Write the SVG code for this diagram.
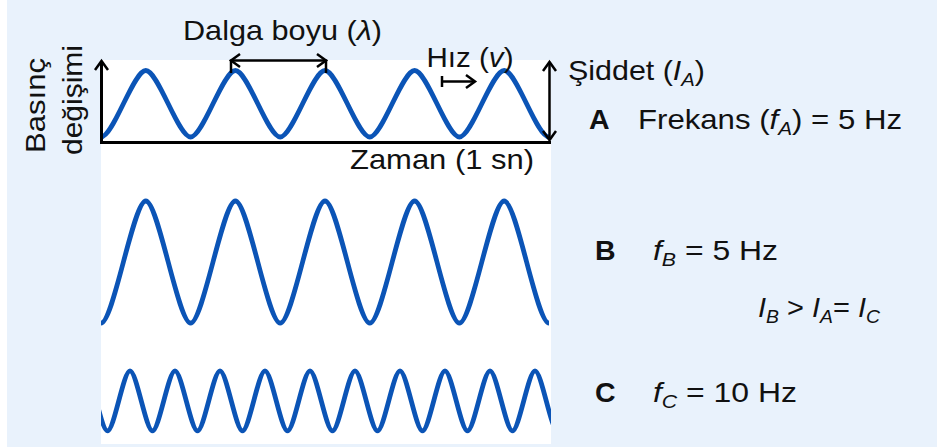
<svg xmlns="http://www.w3.org/2000/svg" width="937" height="447" viewBox="0 0 937 447">
  <style>
    .t { font-family: "Liberation Sans", Arial, sans-serif; font-size: 28.5px; fill: #111; }
    .b { font-weight: bold; }
    .i { font-style: italic; }
    .sub { font-size: 19px; font-style: italic; }
    .rot { font-size: 28px; }
    .wave { fill: none; stroke: #0b54b6; stroke-width: 4.8; }
    .ax { fill: none; stroke: #000; stroke-width: 3; }
    .ar { fill: none; stroke: #000; stroke-width: 2.5; }
  </style>
  <defs>
    <marker id="chev" markerUnits="userSpaceOnUse" markerWidth="24" markerHeight="24" refX="0" refY="0" viewBox="-12 -12 24 24" orient="auto-start-reverse" overflow="visible">
      <path d="M-9,-6.5 L0,0 L-9,6.5" fill="none" stroke="#000" stroke-width="2.5" stroke-linejoin="miter"/>
    </marker>
    <clipPath id="plot">
      <rect x="101" y="60" width="450" height="384"/>
    </clipPath>
  </defs>

  <g id="background">
    <rect x="0" y="0" width="937" height="447" fill="#e9f2fc"/>
    <rect x="0" y="0" width="7" height="447" fill="#ffffff"/>
    <rect x="101" y="60" width="450" height="384" fill="#ffffff"/>
  </g>

  <g id="wave-A" clip-path="url(#plot)">
    <path class="wave" d="M101,137 C113.5,137 133.3,70.5 145.8,70.5 S178.1,137 190.6,137 S222.9,70.5 235.4,70.5 S267.7,137 280.2,137 S312.5,70.5 325,70.5 S357.3,137 369.8,137 S402.1,70.5 414.6,70.5 S446.9,137 459.4,137 S491.7,70.5 504.2,70.5 S536.5,137 549,137"/>
  </g>

  <g id="wave-B" clip-path="url(#plot)">
    <path class="wave" d="M101,323 C113.5,323 133.3,201 145.8,201 S178.1,323 190.6,323 S222.9,201 235.4,201 S267.7,323 280.2,323 S312.5,201 325,201 S357.3,323 369.8,323 S402.1,201 414.6,201 S446.9,323 459.4,323 S491.7,201 504.2,201 S536.5,323 549,323"/>
  </g>

  <g id="wave-C" clip-path="url(#plot)">
    <path class="wave" d="M62.5,430.8 C69,430.8 78.5,370.8 85,370.8 S101,430.8 107.5,430.8 S123.5,370.8 130,370.8 S146,430.8 152.5,430.8 S168.5,370.8 175,370.8 S191,430.8 197.5,430.8 S213.5,370.8 220,370.8 S236,430.8 242.5,430.8 S258.5,370.8 265,370.8 S281,430.8 287.5,430.8 S303.5,370.8 310,370.8 S326,430.8 332.5,430.8 S348.5,370.8 355,370.8 S371,430.8 377.5,430.8 S393.5,370.8 400,370.8 S416,430.8 422.5,430.8 S438.5,370.8 445,370.8 S461,430.8 467.5,430.8 S483.5,370.8 490,370.8 S506,430.8 512.5,430.8 S528.5,370.8 535,370.8 S551,430.8 557.5,430.8"/>
  </g>

  <g id="connectors">
    <line id="x-axis" class="ax" x1="101" y1="142.5" x2="551" y2="142.5"/>
    <line id="y-axis" class="ax" x1="101.5" y1="144" x2="101.5" y2="61" marker-end="url(#chev)"/>
    <line id="intensity-arrow" class="ar" x1="549.5" y1="62" x2="549.5" y2="140" marker-start="url(#chev)" marker-end="url(#chev)"/>
    <g id="wavelength-arrow">
      <line class="ar" x1="231" y1="60.5" x2="326" y2="60.5" marker-start="url(#chev)" marker-end="url(#chev)"/>
      <line class="ar" x1="231" y1="59.5" x2="231" y2="73"/>
      <line class="ar" x1="326" y1="59.5" x2="326" y2="73"/>
    </g>
    <g id="speed-arrow">
      <line class="ar" x1="442" y1="81.5" x2="475" y2="81.5" marker-end="url(#chev)"/>
      <line class="ar" x1="442" y1="76" x2="442" y2="87"/>
    </g>
  </g>

  <g id="labels">
    <text class="t" x="183" y="40" textLength="199" lengthAdjust="spacingAndGlyphs">Dalga boyu (<tspan class="i">λ</tspan>)</text>
    <text class="t" x="426.5" y="67" textLength="87" lengthAdjust="spacingAndGlyphs">Hız (<tspan class="i">v</tspan>)</text>
    <text class="t" x="568" y="80" textLength="137" lengthAdjust="spacingAndGlyphs">Şiddet (<tspan class="i">I</tspan><tspan class="sub" dy="6">A</tspan><tspan dy="-6">)</tspan></text>
    <text class="t" x="350" y="169" textLength="184" lengthAdjust="spacingAndGlyphs">Zaman (1 sn)</text>
    <text class="t rot" transform="translate(45,153) rotate(-90)" x="0" y="0" textLength="95" lengthAdjust="spacingAndGlyphs">Basınç</text>
    <text class="t rot" transform="translate(82,155) rotate(-90)" x="0" y="0" textLength="110" lengthAdjust="spacingAndGlyphs">değişimi</text>
  </g>

  <g id="legend-A">
    <text class="t b" x="589" y="129">A</text>
    <text class="t" x="638" y="129" textLength="264" lengthAdjust="spacingAndGlyphs">Frekans (<tspan class="i">f</tspan><tspan class="sub" dy="6">A</tspan><tspan dy="-6">) = 5 Hz</tspan></text>
  </g>
  <g id="legend-B">
    <text class="t b" x="595" y="260">B</text>
    <text class="t" x="653" y="260" textLength="125" lengthAdjust="spacingAndGlyphs"><tspan class="i">f</tspan><tspan class="sub" dy="6">B</tspan><tspan dy="-6"> = 5 Hz</tspan></text>
  </g>
  <g id="legend-relation">
    <text class="t" x="758" y="317" textLength="122" lengthAdjust="spacingAndGlyphs"><tspan class="i">I</tspan><tspan class="sub" dy="6">B</tspan><tspan dy="-6"> &gt; </tspan><tspan class="i">I</tspan><tspan class="sub" dy="6">A</tspan><tspan dy="-6">= </tspan><tspan class="i">I</tspan><tspan class="sub" dy="6">C</tspan></text>
  </g>
  <g id="legend-C">
    <text class="t b" x="595" y="402">C</text>
    <text class="t" x="653" y="402" textLength="144" lengthAdjust="spacingAndGlyphs"><tspan class="i">f</tspan><tspan class="sub" dy="6">C</tspan><tspan dy="-6"> = 10 Hz</tspan></text>
  </g>
</svg>
